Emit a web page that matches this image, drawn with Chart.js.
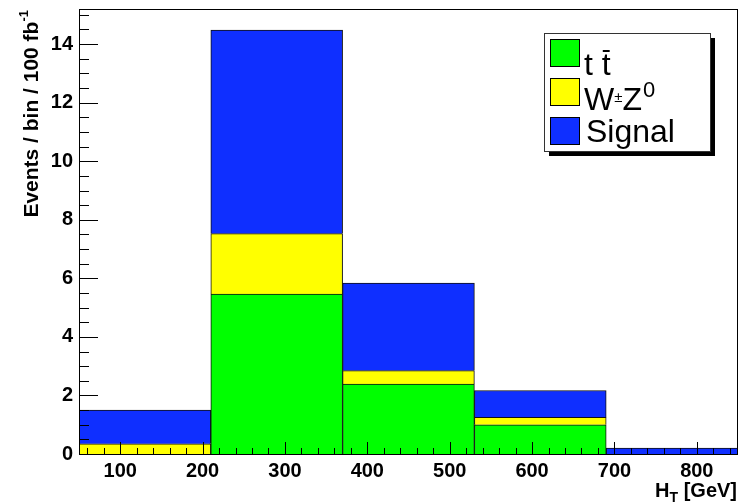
<!DOCTYPE html>
<html>
<head>
<meta charset="utf-8">
<script src="https://cdn.jsdelivr.net/npm/chart.js@4"></script>
<style>
html, body { margin: 0; padding: 0; background: #fff; }
#wrap { width: 747px; height: 503px; position: relative; }
</style>
</head>
<body>
<div id="wrap"><canvas id="htChart"></canvas></div>
<script>
// bins in H_T [GeV]
const binEdges = [50, 210, 370, 530, 690, 850];
const binLabels = ["50-210", "210-370", "370-530", "530-690", "690-850"];

// events / bin / 100 fb^-1, stacked
const ttbarValues = [0, 5.46, 2.39, 1.00, 0];
const wzValues = [0.35, 2.07, 0.46, 0.25, 0];
const signalValues = [1.15, 6.95, 2.99, 0.92, 0.20];

const xTickValues = [100, 200, 300, 400, 500, 600, 700, 800];
const yTickValues = [0, 2, 4, 6, 8, 10, 12, 14];

const green = "#00ff00";
const yellow = "#ffff00";
const blue = "#0f2fff";

const tickFont = { family: "Liberation Sans", size: 20, weight: "bold" };

const drawExtras = {
    id: "drawExtras",
    afterDatasetsDraw(chart) {
        const ctx = chart.ctx;
        const area = chart.chartArea;
        const xs = chart.scales.xAxis;
        const ys = chart.scales.y;

        ctx.save();
        ctx.strokeStyle = "#000";
        ctx.lineWidth = 1;
        ctx.beginPath();

        // x ticks, drawn inward
        for (let v = binEdges[0] + 10; v < binEdges[binEdges.length - 1]; v += 20) {
            const px = Math.round(xs.getPixelForValue(v)) + 0.5;
            const len = v % 100 === 0 ? 12 : 6;
            ctx.moveTo(px, area.bottom);
            ctx.lineTo(px, area.bottom - len);
        }

        // y ticks, drawn inward
        for (let v = 0.5; v <= ys.max; v += 0.5) {
            const py = Math.round(ys.getPixelForValue(v)) + 0.5;
            const len = v % 2 === 0 ? 19 : 10;
            ctx.moveTo(area.left, py);
            ctx.lineTo(area.left + len, py);
        }
        ctx.stroke();

        // frame
        ctx.strokeRect(area.left + 0.5, area.top + 0.5,
            area.right - area.left - 1, area.bottom - area.top);
        ctx.restore();
    },
    afterDraw(chart) {
        const ctx = chart.ctx;
        const area = chart.chartArea;
        ctx.save();
        ctx.fillStyle = "#000";
        ctx.textBaseline = "alphabetic";

        // y title
        ctx.save();
        ctx.translate(38, 10);
        ctx.rotate(-Math.PI / 2);
        ctx.font = "bold 13px 'Liberation Sans'";
        ctx.textAlign = "right";
        const supW = ctx.measureText("-1").width;
        ctx.fillText("-1", 0, -10);
        ctx.font = "bold 21px 'Liberation Sans'";
        ctx.fillText("Events / bin / 100 fb", -supW, 0);
        ctx.restore();

        // x title
        ctx.textAlign = "left";
        ctx.font = "bold 20px 'Liberation Sans'";
        const wH = ctx.measureText("H").width;
        const wRest = ctx.measureText(" [GeV]").width;
        ctx.font = "bold 14px 'Liberation Sans'";
        const wT = ctx.measureText("T").width;
        let x0 = area.right - 1 - (wH + wT + wRest);
        ctx.font = "bold 20px 'Liberation Sans'";
        ctx.fillText("H", x0, 497);
        ctx.font = "bold 14px 'Liberation Sans'";
        ctx.fillText("T", x0 + wH, 502);
        ctx.font = "bold 20px 'Liberation Sans'";
        ctx.fillText(" [GeV]", x0 + wH + wT, 497);

        // legend box with shadow
        const lx = 544, ly = 33, lw = 166, lh = 118;
        ctx.fillStyle = "#000";
        ctx.fillRect(lx + 5, ly + 5, lw, lh);
        ctx.fillStyle = "#fff";
        ctx.fillRect(lx, ly, lw, lh);
        ctx.strokeStyle = "#333";
        ctx.lineWidth = 1;
        ctx.strokeRect(lx + 0.5, ly + 0.5, lw, lh);

        const swatches = [green, yellow, blue];
        const swatchY = [39.5, 78.5, 117.5];
        swatches.forEach((c, i) => {
            ctx.fillStyle = c;
            ctx.fillRect(550.5, swatchY[i], 29, 27);
            ctx.strokeStyle = "#000";
            ctx.strokeRect(550.5, swatchY[i], 29, 27);
        });

        ctx.fillStyle = "#000";
        ctx.font = "32px 'Liberation Sans'";
        ctx.fillText("t t", 584, 75);
        const wt1 = ctx.measureText("t ").width;
        const wt2 = ctx.measureText("t").width;
        ctx.fillRect(584 + wt1 + 1, 50, wt2 - 2, 2);

        ctx.fillText("W", 584, 110);
        let wx = 584 + ctx.measureText("W").width;
        ctx.font = "15px 'Liberation Sans'";
        ctx.fillText("\u00b1", wx, 102);
        wx += ctx.measureText("\u00b1").width;
        ctx.font = "32px 'Liberation Sans'";
        ctx.fillText("Z", wx, 110);
        wx += ctx.measureText("Z").width;
        ctx.font = "22px 'Liberation Sans'";
        ctx.fillText("0", wx + 1, 97);

        ctx.font = "32px 'Liberation Sans'";
        ctx.fillText("Signal", 586, 142);
        ctx.restore();
    }
};

new Chart(document.getElementById("htChart"), {
    type: "bar",
    data: {
        labels: binLabels,
        datasets: [
            { label: "t tbar", data: ttbarValues, backgroundColor: green },
            { label: "W+-Z0", data: wzValues, backgroundColor: yellow },
            { label: "Signal", data: signalValues, backgroundColor: blue }
        ]
    },
    options: {
        responsive: true,
        maintainAspectRatio: false,
        animation: false,
        layout: { padding: { top: 9, right: 9, left: 0, bottom: 0 } },
        datasets: {
            bar: {
                barPercentage: 1,
                categoryPercentage: 1,
                borderWidth: 1,
                borderColor: "#111"
            }
        },
        plugins: {
            legend: { display: false },
            tooltip: { enabled: false }
        },
        scales: {
            x: {
                type: "category",
                stacked: true,
                display: false,
                offset: true
            },
            xAxis: {
                type: "linear",
                position: "bottom",
                offset: false,
                min: binEdges[0],
                max: binEdges[binEdges.length - 1],
                grid: { display: false, drawTicks: false },
                border: { display: false },
                ticks: { font: tickFont, color: "#000", padding: 5, maxRotation: 0, autoSkip: false },
                afterBuildTicks: (s) => { s.ticks = xTickValues.map(v => ({ value: v })); },
                afterFit: (s) => { s.height = 49; s.paddingLeft = 0; s.paddingRight = 0; }
            },
            y: {
                stacked: true,
                min: 0,
                max: 15.2,
                grid: { display: false, drawTicks: false },
                border: { display: false },
                ticks: { font: tickFont, color: "#000", padding: 6 },
                afterBuildTicks: (s) => { s.ticks = yTickValues.map(v => ({ value: v })); },
                afterFit: (s) => { s.width = 79; s.paddingTop = 0; s.paddingBottom = 0; }
            }
        }
    },
    plugins: [drawExtras]
});
</script>
</body>
</html>
